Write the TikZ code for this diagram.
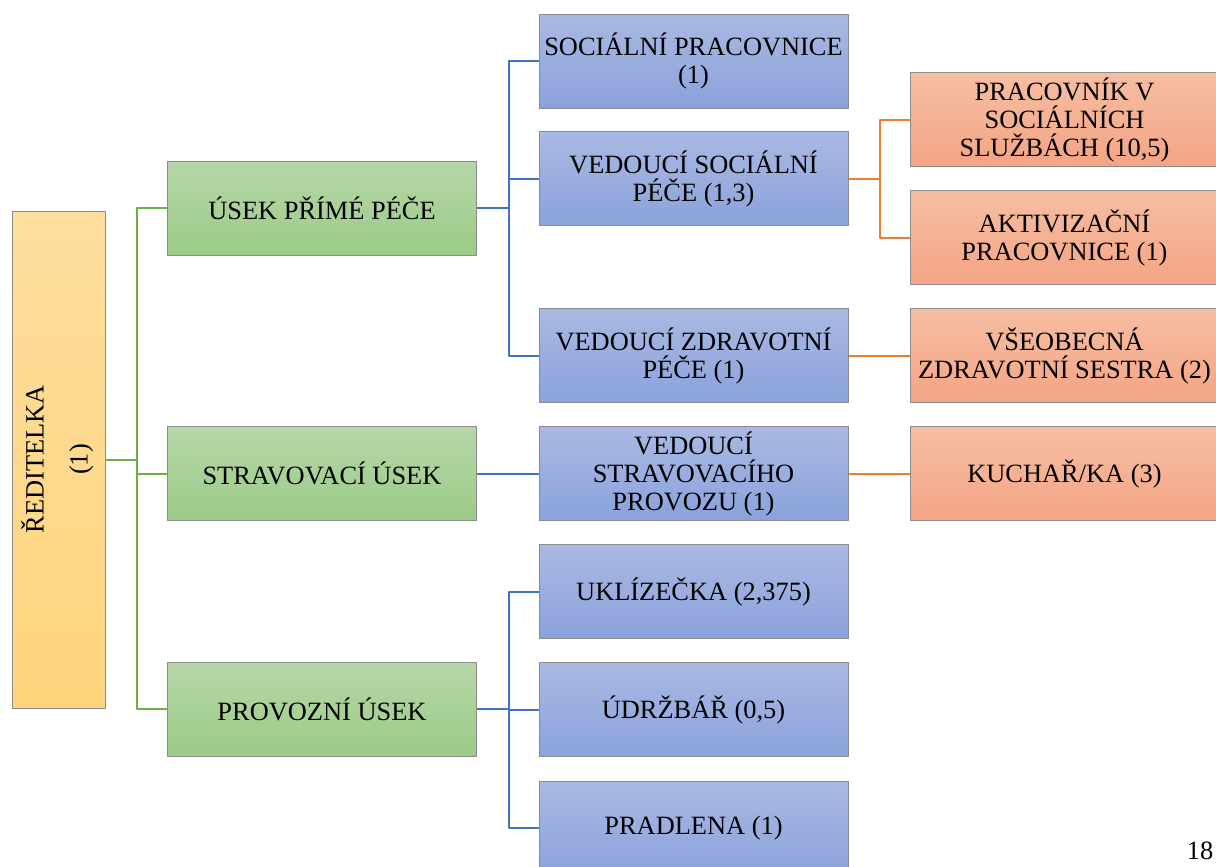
\documentclass[tikz,border=0pt]{standalone}
\usepackage{fontspec}
\setmainfont{Liberation Serif}
\definecolor{zluta1}{HTML}{FEDE9E}
\definecolor{zluta2}{HTML}{FFD47C}
\definecolor{zelena1}{HTML}{B6D7A8}
\definecolor{zelena2}{HTML}{9BCB87}
\definecolor{modra1}{HTML}{AAB9E3}
\definecolor{modra2}{HTML}{8AA2DB}
\definecolor{oranz1}{HTML}{F6BEA3}
\definecolor{oranz2}{HTML}{F4A484}
\definecolor{carazel}{HTML}{70AD47}
\definecolor{caramod}{HTML}{4472C4}
\definecolor{caraor}{HTML}{ED7D31}
\begin{document}
\begin{tikzpicture}[x=0.5pt, y=-0.5pt, font=\fontsize{13.2}{14}\selectfont, line join=round,
	box/.style={draw=gray!90, line width=0.5pt, minimum width=154.5pt, minimum height=47pt, align=center, inner sep=1pt},
	zelbox/.style={box, top color=zelena1, bottom color=zelena2},
	modbox/.style={box, top color=modra1, bottom color=modra2},
	orbox/.style={box, top color=oranz1, bottom color=oranz2},
	zel/.style={draw=carazel, line width=1pt},
	mod/.style={draw=caramod, line width=1pt},
	orl/.style={draw=caraor, line width=1pt}]
	\useasboundingbox (0,0) rectangle (1216,867);
	\def\xz{322} \def\xm{693.5} \def\xo{1064.5} % sloupce
	% reditelka
	\node[box, minimum width=46.5pt, minimum height=248.5pt, top color=zluta1, bottom color=zluta2] (reditelka) at (58.5,459.5)
		{\rotatebox{90}{\begin{tabular}{@{}c@{}}ŘEDITELKA\\[8pt](1)\end{tabular}}};
	% useky
	\node[zelbox] (prima) at (\xz,208) {ÚSEK PŘÍMÉ PÉČE};
	\node[zelbox] (strav) at (\xz,473.5) {STRAVOVACÍ ÚSEK};
	\node[zelbox] (provoz) at (\xz,709) {PROVOZNÍ ÚSEK};
	% vedouci a pracovnici
	\node[modbox] (socprac) at (\xm,61) {SOCIÁLNÍ PRACOVNICE\\(1)};
	\node[modbox] (vedsoc) at (\xm,178.5) {VEDOUCÍ SOCIÁLNÍ\\PÉČE (1,3)};
	\node[modbox] (vedzdrav) at (\xm,355.5) {VEDOUCÍ ZDRAVOTNÍ\\PÉČE (1)};
	\node[modbox] (vedstrav) at (\xm,473.5) {VEDOUCÍ\\STRAVOVACÍHO\\PROVOZU (1)};
	\node[modbox] (uklid) at (\xm,591.5) {UKLÍZEČKA (2,375)};
	\node[modbox] (udrzbar) at (\xm,709.5) {ÚDRŽBÁŘ (0,5)};
	\node[modbox] (pradl) at (\xm,828) {PRADLENA (1)};
	\node[orbox] (pracsoc) at (\xo,119.5) {PRACOVNÍK V\\SOCIÁLNÍCH\\SLUŽBÁCH (10,5)};
	\node[orbox] (aktiv) at (\xo,237.5) {AKTIVIZAČNÍ\\PRACOVNICE (1)};
	\node[orbox] (sestra) at (\xo,355.5) {VŠEOBECNÁ\\ZDRAVOTNÍ SESTRA (2)};
	\node[orbox] (kuchar) at (\xo,473.5) {KUCHAŘ/KA (3)};
	% spojnice
	\draw[zel] (reditelka.east) -- ++(31,0) |- (prima.west);
	\draw[zel] (reditelka.east) -- ++(31,0) |- (strav.west);
	\draw[zel] (reditelka.east) -- ++(31,0) |- (provoz.west);
	\draw[mod] (prima.east) -- ++(32,0) |- (socprac.west);
	\draw[mod] (prima.east) -- ++(32,0) |- (vedsoc.west);
	\draw[mod] (prima.east) -- ++(32,0) |- (vedzdrav.west);
	\draw[mod] (strav.east) -- (vedstrav.west);
	\draw[mod] (provoz.east) -- ++(32,0) |- (uklid.west);
	\draw[mod] (provoz.east) -- ++(32,0) |- (udrzbar.west);
	\draw[mod] (provoz.east) -- ++(32,0) |- (pradl.west);
	\draw[orl] (vedsoc.east) -- ++(31,0) |- (pracsoc.west);
	\draw[orl] (vedsoc.east) -- ++(31,0) |- (aktiv.west);
	\draw[orl] (vedzdrav.east) -- (sestra.west);
	\draw[orl] (vedstrav.east) -- (kuchar.west);
	\node[inner sep=0pt] (strana) at (1200,851) {18};
\end{tikzpicture}
\end{document}
